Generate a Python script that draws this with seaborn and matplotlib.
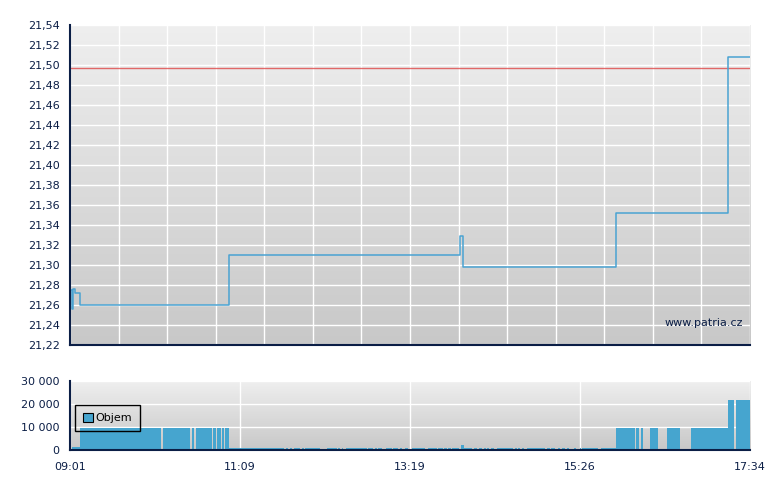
import numpy as np
import pandas as pd
import seaborn as sns
import matplotlib.pyplot as plt
from matplotlib.ticker import FuncFormatter

# price steps, minutes after 09:01
price_min = [0, 1.5, 2.5, 3.8, 7.5, 120.2, 294.6, 296.5, 412.0, 496.4, 513]
price_val = [21.275, 21.256, 21.276, 21.272, 21.260, 21.310, 21.329, 21.298, 21.352, 21.508, 21.508]
prev_close = 21.497

# volume bars: start, end (minutes after 09:01), volume
vol_start = [1.3, 7.5, 69.9, 91.8, 94.8, 107.7, 110.9, 114.7, 117.2,
             120.0, 157.7, 163.0, 166.0, 169.2, 175.3, 177.3, 193.7, 202.4, 205.0,
             208.2, 225.0, 230.1, 232.1, 238.4, 243.9, 249.0, 252.7, 257.8, 270.3,
             277.4, 282.2, 285.4, 288.4, 294.8, 297.0, 304.8, 308.8, 312.6, 314.4,
             317.4, 322.4, 335.7, 338.2, 340.8, 344.5, 359.6, 362.9, 367.9, 371.4,
             374.7, 380.2, 384.8, 386.0, 400.6,
             411.9, 426.8, 430.5, 437.6, 450.4, 468.5, 496.4, 502.4]
vol_end = [7.5, 68.7, 90.8, 93.8, 106.9, 110.1, 113.7, 116.4, 120.0,
           157.7, 161.7, 164.7, 167.3, 173.5, 176.8, 188.6, 201.2, 203.7, 206.2,
           223.8, 228.8, 231.4, 235.6, 242.7, 247.7, 250.2, 255.2, 267.8, 276.7,
           281.2, 284.2, 287.4, 293.7, 297.0, 303.1, 307.3, 310.8, 313.6, 316.1,
           319.9, 334.4, 337.0, 339.5, 342.5, 358.4, 362.1, 365.9, 369.7, 373.5,
           376.7, 381.5, 385.5, 398.6, 411.9,
           426.2, 429.0, 432.0, 443.6, 460.2, 496.4, 500.9, 513.0]
vol_val = [1500] + [9700] * 8 + [900] * 24 + [2200] + [900] * 20 + [9700] * 6 + [21700] * 2

vol_ticks = ["09:01", "11:09", "13:19", "15:26", "17:34"]
session_len = 513

navy = "#0b1e46"
blue = "#46a5cf"

sns.set_style("white")
plt.rcParams["font.family"] = ["DejaVu Sans"]
plt.rcParams["font.size"] = 8

fig = plt.figure(figsize=(7.8, 4.9), dpi=100)
ax = fig.add_axes([0.0897, 0.2959, 0.8718, 0.6531])
axv = fig.add_axes([0.0897, 0.0816, 0.8718, 0.1414])

grad = np.linspace(0, 1, 256).reshape(-1, 1)
for a in (ax, axv):
    a.imshow(grad, cmap=plt.matplotlib.colors.LinearSegmentedColormap.from_list(
        "bg", ["#c8c8c8", "#efefef"]), aspect="auto", extent=[0, 1, 0, 1],
        transform=a.transAxes, origin="lower", zorder=0)
    for s in ("top", "right"):
        a.spines[s].set_visible(False)
    for s in ("left", "bottom"):
        a.spines[s].set_color(navy)
        a.spines[s].set_linewidth(1.5)
        a.spines[s].set_zorder(5)
    a.tick_params(colors=navy, labelcolor=navy, direction="out", length=4, width=1)
    a.set_xlim(0, session_len)

# price panel
df = pd.DataFrame({"t": price_min, "p": price_val})
sns.lineplot(data=df, x="t", y="p", ax=ax, drawstyle="steps-post",
             color="#4aa3d2", linewidth=1.1, zorder=3)
ax.axhline(prev_close, color="#e04848", linewidth=1.0, alpha=0.8, zorder=2)
ax.set_ylim(21.22, 21.54)
ax.set_yticks(np.arange(21.22, 21.5401, 0.02))
ax.yaxis.set_major_formatter(FuncFormatter(lambda v, p: f"{v:.2f}".replace(".", ",")))
ax.set_xticks(np.linspace(0, session_len, 15))
ax.set_xticklabels([])
ax.tick_params(axis="x", length=5)
ax.grid(True, color="white", linewidth=1.0)
for gl in ax.get_xgridlines() + ax.get_ygridlines():
    gl.set_zorder(1)
ax.set_xlabel("")
ax.set_ylabel("")
ax.text(0.99, 0.068, "www.patria.cz", transform=ax.transAxes, ha="right",
        va="center", color=navy, fontsize=8, zorder=4)

# volume panel
widths = [e - s for s, e in zip(vol_start, vol_end)]
axv.bar(vol_start, vol_val, width=widths, align="edge", color=blue,
        linewidth=0, zorder=3, label="Objem")
axv.set_ylim(0, 30000)
axv.set_yticks([0, 10000, 20000, 30000])
axv.yaxis.set_major_formatter(FuncFormatter(lambda v, p: f"{int(v):,}".replace(",", " ")))
axv.set_xticks(np.linspace(0, session_len, 5))
axv.set_xticklabels(vol_ticks)
axv.tick_params(axis="x", length=5)
axv.grid(True, color="white", linewidth=1.0)
for gl in axv.get_xgridlines() + axv.get_ygridlines():
    gl.set_zorder(1)
leg = axv.legend(loc="upper left", bbox_to_anchor=(0.007, 0.65), frameon=True,
                 fancybox=False, fontsize=8,
                 handlelength=0.9, handleheight=0.9, handletextpad=0.3,
                 borderpad=0.7, borderaxespad=0)
frame = leg.get_frame()
frame.set_facecolor("none")
frame.set_edgecolor("black")
frame.set_alpha(None)
frame.set_linewidth(1)
for h in leg.legend_handles:
    h.set_edgecolor("black")
    h.set_linewidth(0.8)
for t in leg.get_texts():
    t.set_color("black")
leg.set_zorder(6)

fig.savefig("out.png", dpi=100)
